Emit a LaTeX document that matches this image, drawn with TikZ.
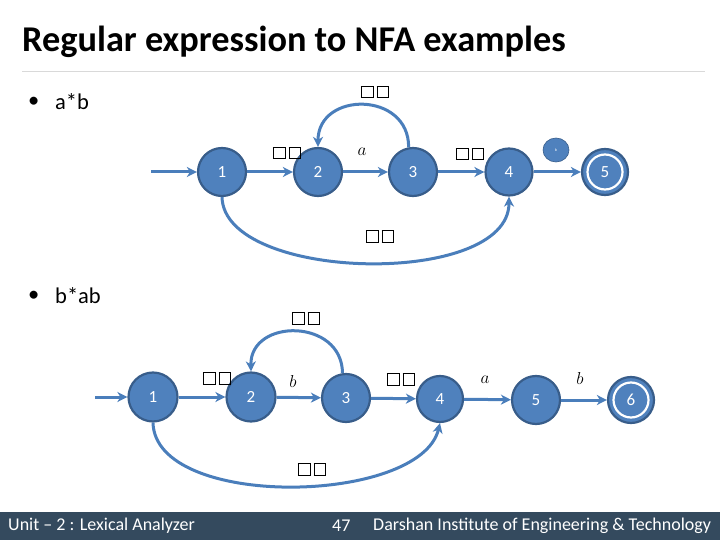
\documentclass[tikz,border=0pt]{standalone}
\usepackage{fontspec}
\setmainfont{Carlito}
\usetikzlibrary{arrows.meta,shapes.geometric}
\definecolor{nodeblue}{HTML}{4F81BD}
\definecolor{nodeborder}{HTML}{385D8A}
\definecolor{edgeblue}{HTML}{4A7EBB}
\definecolor{footerbg}{HTML}{344A5E}
\definecolor{sepgray}{HTML}{D9D9D9}
\newcommand{\tofu}{{\setlength{\fboxsep}{0pt}\setlength{\fboxrule}{0.8pt}\fbox{\rule{0pt}{11pt}\hspace{11pt}}\hspace{3pt}\fbox{\rule{0pt}{11pt}\hspace{11pt}}}}
\begin{document}
\begin{tikzpicture}[x=1pt,y=-1pt,
  state/.style={circle,fill=nodeblue,draw=nodeborder,line width=2.2pt,minimum size=48pt,inner sep=0pt,text=white,font=\fontsize{17}{17}\selectfont},
  edge/.style={draw=edgeblue,line width=3pt,-{Stealth[length=10pt,width=10pt,inset=3pt]}},
  lbl/.style={inner sep=0pt},
  mlbl/.style={inner sep=0pt,font=\fontsize{19}{19}\selectfont},
  bullet/.style={anchor=west,inner sep=0pt,font=\fontsize{22.5}{22.5}\selectfont},
  foot/.style={anchor=west,inner sep=0pt,text=white,font=\fontsize{18}{18}\selectfont}]
\useasboundingbox (0,0) rectangle (720,540);
% title
\node[anchor=base west,inner sep=0pt,font=\fontsize{36.3}{36.3}\selectfont\bfseries] (title) at (22,52) {Regular expression to NFA examples};
\draw[sepgray,line width=1pt] (22,72) -- (705,72);
% bullets
\node[bullet] (b1dot) at (28,102) {•};
\node[bullet] (b1) at (55,102) {a*b};
\node[bullet] (b2dot) at (28,296) {•};
\node[bullet] (b2) at (55,296) {b*ab};
% ---------- top NFA ----------
\node[state] (t1) at (222,172) {1};
\node[state] (t2) at (318,172) {2};
\node[state] (t3) at (413,172) {3};
\node[state,minimum size=47pt] (t4) at (509,172) {4};
\node[state,minimum size=46pt] (t5) at (605,172) {5};
\draw[white,line width=2.2pt] (t5.center) circle (17.5pt);
\node[ellipse,fill=nodeblue,draw=nodeborder,line width=0.6pt,minimum width=26pt,minimum height=24pt,inner sep=0pt,text=white,font=\fontsize{4}{4}\selectfont] (tb) at (556,150) {b};
\coordinate (tin) at (151,172);
\draw[edge] (tin) -- (t1);
\draw[edge] (t1) -- (t2);
\draw[edge] (t2) -- (t3);
\draw[edge] (t3) -- (t4);
\draw[edge] (t4) -- (t5);
\draw[edge] (t3.100) .. controls (409,91) and (318,91) .. (t2.north);
\draw[edge] (t1.south) .. controls (224,282) and (509,288) .. (t4.south);
\node[lbl] (tl12) at (287,153) {\tofu};
\node[mlbl] (tla) at (362,152) {$a$};
\node[lbl] (tlloop) at (375,92) {\tofu};
\node[lbl] (tl34) at (470,154) {\tofu};
\node[lbl] (tlbot) at (380,236) {\tofu};
% ---------- bottom NFA ----------
\node[state,minimum size=49pt] (u1) at (153,397) {1};
\node[state,minimum size=49pt] (u2) at (251,397) {2};
\node[state,minimum size=48pt] (u3) at (346,398) {3};
\node[state,minimum size=46pt] (u4) at (440,399) {4};
\node[state,minimum size=48pt] (u5) at (536,400) {5};
\node[state,minimum size=46pt] (u6) at (631,400) {6};
\draw[white,line width=2.2pt] (u6.center) circle (17.5pt);
\coordinate (uin) at (95,397);
\draw[edge] (uin) -- (u1);
\draw[edge] (u1) -- (u2);
\draw[edge] (u2) -- (u3);
\draw[edge] (u3) -- (u4);
\draw[edge] (u4) -- (u5);
\draw[edge] (u5) -- (u6);
\draw[edge] (u3.98) .. controls (342,318) and (250,318) .. (u2.north);
\draw[edge] (u1.south) .. controls (155,510) and (420,505) .. (u4.south);
\node[lbl] (ulloop) at (306,318) {\tofu};
\node[lbl] (ul12) at (217,378) {\tofu};
\node[mlbl] (ulb1) at (293,381) {$b$};
\node[lbl] (ul34) at (401,379) {\tofu};
\node[mlbl] (ula) at (485,380) {$a$};
\node[mlbl] (ulb2) at (580,378) {$b$};
\node[lbl] (ulbot) at (312,469) {\tofu};
% footer
\fill[footerbg] (0,512) rectangle (720,540);
\node[foot] (f1) at (8,526) {Unit – 2 : Lexical Analyzer};
\node[foot] (f2) at (332,526) {47};
\node[foot] (f3) at (373,526) {Darshan Institute of Engineering \& Technology};
\end{tikzpicture}
\end{document}
